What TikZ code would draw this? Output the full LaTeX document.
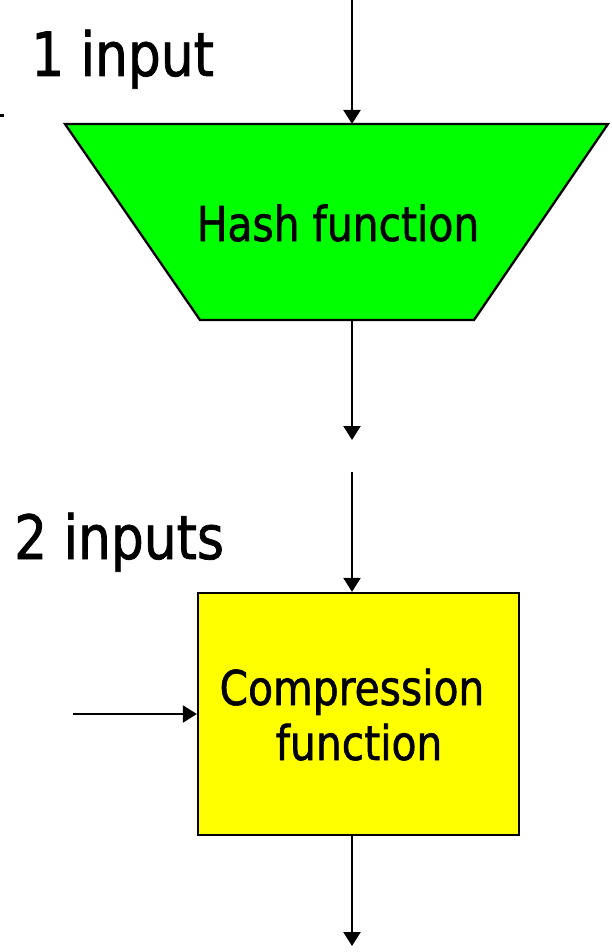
\documentclass[tikz,border=0pt]{standalone}
\usepackage{fontspec}
\setmainfont{DejaVu Sans}[FakeStretch=0.85,FakeBold=1.2]
\usetikzlibrary{arrows.meta}
\definecolor{hashgreen}{HTML}{00FF00}
\definecolor{compyellow}{HTML}{FFFF00}
\tikzset{
  flow/.style={line width=2.3pt,-{Triangle[width=17pt,length=14pt]}},
  outline/.style={line width=2.3pt,draw=black,line join=miter},
  biglabel/.style={inner sep=0pt,font=\fontsize{61}{70}\selectfont},
  boxlabel/.style={inner sep=0pt,font=\fontsize{48}{55}\selectfont},
}
\begin{document}
\begin{tikzpicture}[x=1pt,y=-1pt]
\useasboundingbox (0,0) rectangle (612,952);

% hash function: inverted trapezium
\fill[hashgreen] (65,124) -- (608,124) -- (474,320) -- (200,320) -- cycle;
\draw[outline] (65,124) -- (608,124) -- (474,320) -- (200,320) -- cycle;
\coordinate (hashtop) at (352,124);
\coordinate (hashbot) at (352,320);
\node[boxlabel,anchor=base] (hashtext) at (338,241) {Hash function};

% compression function box
\node[outline,fill=compyellow,minimum width=321pt,minimum height=242pt,inner sep=0pt]
  (comp) at (358.5,714) {};
\node[boxlabel,anchor=base] (comptext1) at (352,705) {Compression};
\node[boxlabel,anchor=base] (comptext2) at (359,760) {function};

% labels
\node[biglabel,anchor=base west] (lab1) at (31,76) {1 input};
\node[biglabel,anchor=base west] (lab2) at (14,559) {2 inputs};

% free ends of the connectors
\coordinate (in1) at (352,0);
\coordinate (out1) at (352,440);
\coordinate (in2) at (352,472);
\coordinate (in3) at (73,714);
\coordinate (out2) at (352,946);

% connectors
\draw[flow] (in1) -- (hashtop);
\draw[flow] (hashbot) -- (out1);
\draw[flow] (in2) -- (comp.north -| in2);
\draw[flow] (in3) -- (comp.west);
\draw[flow] (comp.south -| out2) -- (out2);

% stub at the left margin
\fill (0,114) rectangle (4,117);
\end{tikzpicture}
\end{document}
